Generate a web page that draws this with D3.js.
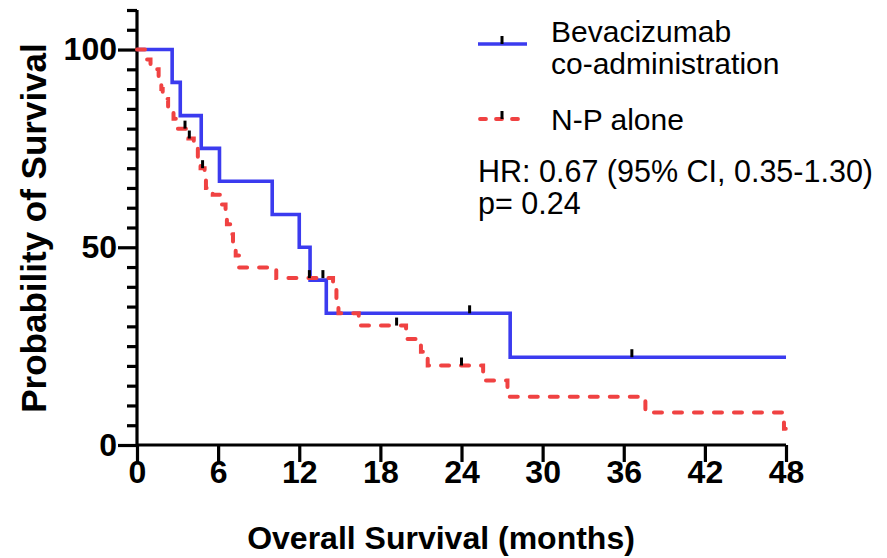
<!DOCTYPE html>
<html>
<head>
<meta charset="utf-8">
<script src="https://cdn.jsdelivr.net/npm/d3@7"></script>
<style>
  html, body { margin: 0; padding: 0; background: #fff; }
  svg { display: block; }
  text { font-family: "Liberation Sans", Arial, Helvetica, sans-serif; }
</style>
</head>
<body>
<svg id="chart" width="887" height="558"></svg>
<script>
// ---- data ----
const seriesNames = ["Bevacizumab", "co-administration", "N-P alone"];
// Kaplan-Meier steps: [time (months), survival % after the step]
const bevTimes = [0, 2.6, 3.2, 4.75, 6.1, 10.0, 12.0, 12.8, 14.0, 27.6, 48];
const bevSurv  = [100, 91.7, 83.3, 75, 66.7, 58.3, 50, 41.7, 33.3, 22.2, 22.2];
const bevCensor = [24.6, 36.6];

const npTimes = [0, 0.7, 1.0, 1.6, 1.8, 1.9, 2.3, 2.7, 2.9, 3.8, 4.2, 4.5, 4.7, 5.0, 5.1, 5.6, 6.2, 6.55, 6.65, 6.9, 7.1, 7.3, 7.55, 10.3, 14.5, 14.75, 14.9, 16.4, 19.9, 21.0, 21.5, 25.6, 27.4, 37.6, 47.85, 48];
const npSurv  = [100, 97.5, 95, 92.5, 90, 87.5, 85, 82.5, 80, 77.5, 75, 72.5, 70, 67.5, 65, 63.3, 60.8, 58.3, 55.8, 53.3, 50.8, 47.9, 44.9, 42.2, 39.2, 36.2, 33.3, 30.2, 26.8, 23.6, 20.1, 16.3, 12.2, 8.2, 4.1, 4.1];
const npCensor = [3.55, 3.87, 4.85, 12.75, 13.75, 19.2, 24.0];

const xTickVals = [0, 6, 12, 18, 24, 30, 36, 42, 48];
const yMajorTicks = [0, 50, 100];
const yMinorTicks = [5, 10, 15, 20, 25, 30, 35, 40, 45, 55, 60, 65, 70, 75, 80, 85, 90, 95, 105, 110];

const xTitle = "Overall Survival (months)";
const yTitle = "Probability of Survival";
const statLines = ["HR: 0.67 (95% CI, 0.35-1.30)", "p= 0.24"];

// ---- layout ----
const svg = d3.select("#chart");
const x = d3.scaleLinear().domain([0, 48]).range([137, 786]);
const y = d3.scaleLinear().domain([0, 110]).range([445, 10]);

const BLUE = "#3b3bef";
const RED = "#f04242";

// axes
const xAxis = d3.axisBottom(x).tickValues(xTickVals).tickSize(17).tickPadding(-2).tickFormat(d3.format("d"));
const gx = svg.append("g").attr("transform", "translate(0,445)").call(xAxis);
gx.select(".domain").attr("stroke", "#000").attr("stroke-width", 3.2).attr("d", `M${x(0)},0H${x(48)}`);
gx.selectAll(".tick line").attr("stroke", "#000").attr("stroke-width", 3.2);
gx.selectAll(".tick text").attr("fill", "#000").attr("font-size", 32).attr("font-weight", "bold").attr("dy", "0.72em");

const yAxis = d3.axisLeft(y).tickValues(yMajorTicks).tickSize(19).tickPadding(1);
const gy = svg.append("g").attr("transform", "translate(137,0)").call(yAxis);
gy.select(".domain").attr("stroke", "#000").attr("stroke-width", 3.2).attr("d", `M0,${y(110)}V${y(0)}`);
gy.selectAll(".tick line").attr("stroke", "#000").attr("stroke-width", 3.2);
gy.selectAll(".tick text").attr("fill", "#000").attr("font-size", 32).attr("font-weight", "bold");

const yMinor = d3.axisLeft(y).tickValues(yMinorTicks).tickSize(10).tickFormat("");
const gym = svg.append("g").attr("transform", "translate(137,0)").call(yMinor);
gym.select(".domain").remove();
gym.selectAll(".tick line").attr("stroke", "#000").attr("stroke-width", 3.2);

// axis titles
svg.append("text").attr("x", 441).attr("y", 549).attr("text-anchor", "middle")
  .attr("font-size", 32).attr("font-weight", "bold").text(xTitle);
svg.append("text").attr("transform", "translate(46,228) rotate(-90)").attr("text-anchor", "middle")
  .attr("font-size", 35).attr("font-weight", "bold").text(yTitle);

// curves
const toPts = (ts, ss) => ts.map((t, i) => [t, ss[i]]);
const line = d3.line().x(d => x(d[0])).y(d => y(d[1])).curve(d3.curveStepAfter);

const bevPts = toPts(bevTimes, bevSurv);
const npPts = toPts(npTimes, npSurv);

svg.append("path").attr("d", line(bevPts)).attr("fill", "none")
  .attr("stroke", BLUE).attr("stroke-width", 3.6);
svg.append("path").attr("d", line(npPts)).attr("fill", "none")
  .attr("stroke", RED).attr("stroke-width", 4).attr("stroke-dasharray", "8,12")
  .attr("stroke-linecap", "round");

function survAt(ts, ss, t) {
  let v = ss[0];
  for (let i = 0; i < ts.length; i++) { if (ts[i] <= t) v = ss[i]; }
  return v;
}
function censorMarks(times, ts, ss) {
  svg.append("g").selectAll("line").data(times).join("line")
    .attr("x1", d => x(d)).attr("x2", d => x(d))
    .attr("y1", d => y(survAt(ts, ss, d)))
    .attr("y2", d => y(survAt(ts, ss, d)) - 8)
    .attr("stroke", "#000").attr("stroke-width", 3);
}
censorMarks(bevCensor, bevTimes, bevSurv);
censorMarks(npCensor, npTimes, npSurv);

// legend
const lg = svg.append("g");
lg.append("line").attr("x1", 478).attr("x2", 527).attr("y1", 44).attr("y2", 44)
  .attr("stroke", BLUE).attr("stroke-width", 3.6);
lg.append("line").attr("x1", 502).attr("x2", 502).attr("y1", 44).attr("y2", 36)
  .attr("stroke", "#000").attr("stroke-width", 3);
lg.append("text").attr("x", 551).attr("y", 42).attr("font-size", 30).text(seriesNames[0]);
lg.append("text").attr("x", 551).attr("y", 74).attr("font-size", 30).text(seriesNames[1]);

lg.append("line").attr("x1", 480).attr("x2", 527).attr("y1", 119).attr("y2", 119)
  .attr("stroke", RED).attr("stroke-width", 3.8).attr("stroke-dasharray", "6,10")
  .attr("stroke-linecap", "round");
lg.append("line").attr("x1", 502).attr("x2", 502).attr("y1", 119).attr("y2", 111)
  .attr("stroke", "#000").attr("stroke-width", 3);
lg.append("text").attr("x", 551).attr("y", 130).attr("font-size", 30).text(seriesNames[2]);

lg.append("text").attr("x", 478).attr("y", 182).attr("font-size", 30.5).text(statLines[0]);
lg.append("text").attr("x", 478).attr("y", 214).attr("font-size", 30.5).text(statLines[1]);
</script>
</body>
</html>
